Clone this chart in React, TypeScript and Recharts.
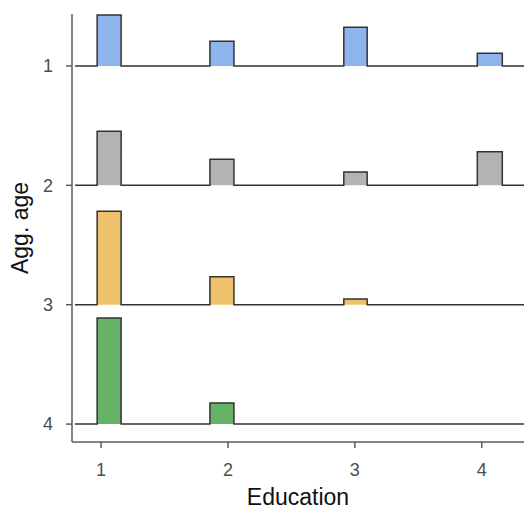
import React from 'react';
import { ComposedChart, Area, XAxis, YAxis } from 'recharts';

// categories
const ageLevels = [1, 2, 3, 4];
const educationLevels = [1, 2, 3, 4];

// histogram bins (one per education level), left/right edges in education units
const binLeft = [0.969, 1.858, 2.913, 3.965];
const binRight = [1.158, 2.047, 3.097, 4.162];

// share of each age group falling in each education bin
const age1Share = [0.4, 0.195, 0.305, 0.1];
const age2Share = [0.425, 0.205, 0.105, 0.265];
const age3Share = [0.735, 0.22, 0.045, 0];
const age4Share = [0.835, 0.165, 0, 0];

const shares = [age1Share, age2Share, age3Share, age4Share];
const colors = ['#8DB5EB', '#B3B3B3', '#EEC26B', '#66B266'];

const xStart = 0.795;
const xEnd = 4.34;
const ridgeScale = 1.065;

// stepped outline points for every ridge
const rows: Record<string, number>[] = [];
const pushRow = (x: number, binIdx: number | null) => {
  const row: Record<string, number> = { x };
  ageLevels.forEach((age, i) => {
    const h = binIdx === null ? 0 : shares[i][binIdx];
    row['r' + age] = age - h * ridgeScale;
  });
  rows.push(row);
};
pushRow(xStart, null);
educationLevels.forEach((_, b) => {
  pushRow(binLeft[b], b);
  pushRow(binRight[b], null);
});
pushRow(xEnd, null);

const font = '"Liberation Sans", Arial, sans-serif';
const axisColor = '#5c5c5c';

export default function App() {
  return (
    <div style={{ position: 'fixed', left: 0, top: 0, width: 524, height: 516, background: '#fff' }}>
      <ComposedChart width={524} height={516} data={rows} margin={{ top: 14, right: 0, left: 0, bottom: 0 }}>
        <XAxis
          dataKey="x"
          type="number"
          domain={[0.771, 4.333]}
          allowDataOverflow
          ticks={educationLevels}
          height={74}
          stroke={axisColor}
          strokeWidth={1.5}
          tickSize={6}
          tickMargin={15}
          tick={{ fill: '#4D4D4D', fontSize: 18, fontFamily: font }}
          label={{
            content: () => (
              <text x={298} y={505} textAnchor="middle" fontSize={23} fontFamily={font} fill="#111">
                Education
              </text>
            ),
          }}
        />
        <YAxis
          type="number"
          reversed
          domain={[0.565, 4.15]}
          allowDataOverflow
          ticks={ageLevels}
          width={72}
          stroke={axisColor}
          strokeWidth={1.5}
          tickSize={6}
          tickMargin={13}
          tick={{ fill: '#4D4D4D', fontSize: 18, fontFamily: font }}
          label={{
            content: () => (
              <text
                x={28}
                y={228}
                textAnchor="middle"
                fontSize={23}
                fontFamily={font}
                fill="#111"
                transform="rotate(-90 28 228)"
              >
                Agg. age
              </text>
            ),
          }}
        />
        {ageLevels.map((age, i) => (
          <Area
            key={age}
            dataKey={'r' + age}
            type="stepAfter"
            baseValue={age}
            fill={colors[i]}
            fillOpacity={1}
            stroke="#333"
            strokeWidth={1.5}
            isAnimationActive={false}
            dot={false}
            activeDot={false}
          />
        ))}
      </ComposedChart>
    </div>
  );
}
